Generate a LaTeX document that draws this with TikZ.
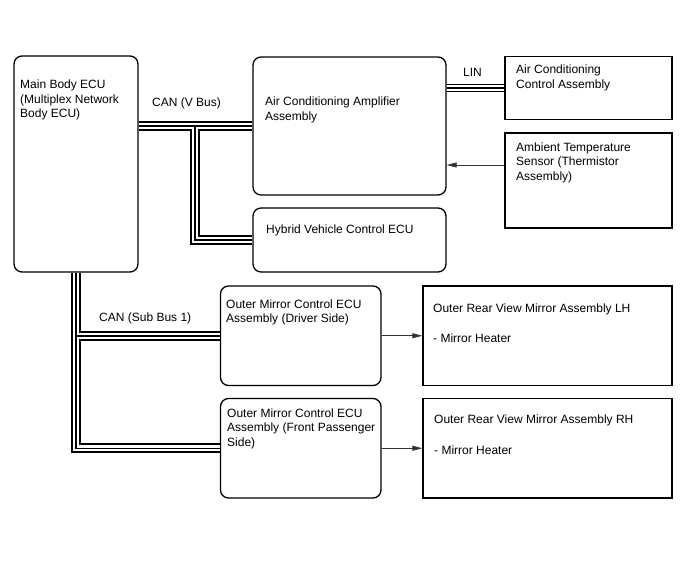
\documentclass[tikz,border=0pt]{standalone}
\usepackage{fontspec}
\setmainfont{Liberation Sans}
\usetikzlibrary{arrows.meta}

\tikzset{
  ecubox/.style={draw, line width=1.3pt, rounded corners=8pt, inner sep=0pt},
  partbox/.style={draw, line width=1.3pt, inner sep=0pt},
  lbl/.style={anchor=base west, align=left, inner sep=0pt, font=\fontsize{12}{14.5}\selectfont},
  canbus/.style={draw=white, line width=6.4pt, preaction={draw=black, line width=10pt}, postaction={draw=black, line width=1.5pt}},
  linbus/.style={draw=white, line width=5.8pt, preaction={draw=black, line width=8pt}, postaction={draw=black, line width=2.8pt}},
  sig/.style={-{Triangle[length=10pt,width=5pt]}, line width=0.8pt, black!80}
}

\begin{document}
\begin{tikzpicture}[x=1pt,y=-1pt]
    \useasboundingbox (0,0) rectangle (688,560);

    % Main body ECU (multi-line labels sit on their last baseline)
    \node[ecubox, minimum width=124pt, minimum height=216pt] (main) at (76,164) {};
    \node[lbl] (mainlbl) at (20,117.5) {Main Body ECU\\(Multiplex Network\\Body ECU)};

    % Air conditioning
    \node[ecubox, minimum width=193pt, minimum height=138pt] (amp) at (349.5,126) {};
    \node[lbl] (amplbl) at (265,120) {Air Conditioning Amplifier\\Assembly};
    \node[ecubox, minimum width=193pt, minimum height=64pt] (hyb) at (349.5,240) {};
    \node[lbl] (hyblbl) at (266,233.5) {Hybrid Vehicle Control ECU};
    \node[partbox, minimum width=167pt, minimum height=63pt] (ctl) at (588.5,88) {};
    \node[lbl] (ctllbl) at (516,88) {Air Conditioning\\Control Assembly};
    \node[partbox, minimum width=167pt, minimum height=95pt] (amb) at (588.5,180.5) {};
    \node[lbl] (amblbl) at (516,180) {Ambient Temperature\\Sensor (Thermistor\\Assembly)};

    % Outer mirrors
    \node[ecubox, minimum width=160.5pt, minimum height=99.5pt] (drv) at (300.75,335.75) {};
    \node[lbl] (drvlbl) at (226,322.5) {Outer Mirror Control ECU\\Assembly (Driver Side)};
    \node[ecubox, minimum width=160.5pt, minimum height=99.5pt] (pas) at (300.75,448.25) {};
    \node[lbl] (paslbl) at (227,446) {Outer Mirror Control ECU\\Assembly (Front Passenger\\Side)};
    \node[partbox, minimum width=249pt, minimum height=99.5pt] (lh) at (547.5,335.75) {};
    \node[lbl] (lhlbl) at (433,312) {Outer Rear View Mirror Assembly LH};
    \node[lbl] (lhht) at (433,342) {- Mirror Heater};
    \node[partbox, minimum width=249pt, minimum height=99.5pt] (rh) at (547.5,448.25) {};
    \node[lbl] (rhlbl) at (434,423) {Outer Rear View Mirror Assembly RH};
    \node[lbl] (rhht) at (434,454) {- Mirror Heater};

    % Buses
    \coordinate (vb) at (195,126);
    \draw[canbus] (main.east |- vb) -- (amp.west |- vb) (vb) |- (hyb.west);
    \node[lbl] (vbuslbl) at (152,106.5) {CAN (V Bus)};
    \draw[linbus] (amp.east |- ctl.west) -- (ctl.west);
    \node[lbl] (linlbl) at (463,76) {LIN};
    \draw[canbus] (main.south) |- (pas.west) (main.south |- drv.west) -- (drv.west);
    \node[lbl] (sublbl) at (99,321) {CAN (Sub Bus 1)};

    % Signals
    \coordinate (tmp) at (0,165);
    \draw[sig] (amb.west |- tmp) -- (amp.east |- tmp);
    \draw[sig] (drv.east) -- (lh.west);
    \draw[sig] (pas.east) -- (rh.west);
\end{tikzpicture}
\end{document}
